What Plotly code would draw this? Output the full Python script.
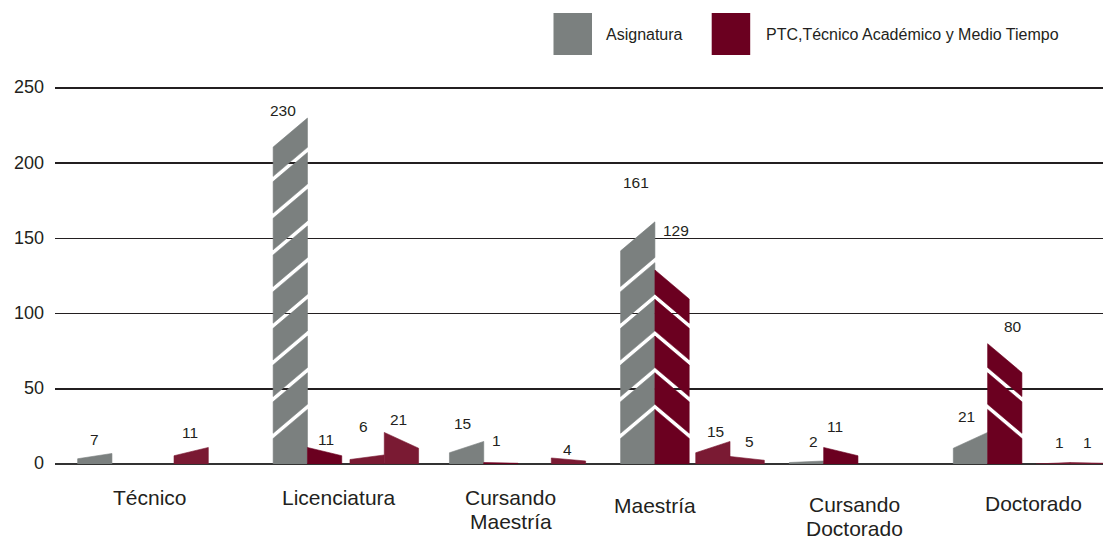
import plotly.graph_objects as go

# ------------------------------------------------------------------ data
CATEGORIES = ["Técnico", "Licenciatura", "Cursando\nMaestría", "Maestría",
              "Cursando\nDoctorado", "Doctorado"]
ASIGNATURA = [7, 230, 15, 161, 2, 21]          # gray, first slot of pair 1
PTC = [None, 11, 1, 129, 11, 80]               # maroon, second slot of pair 1
OTROS_A = [11, 6, None, 15, None, 1]           # light maroon, first slot of pair 2
OTROS_B = [None, 21, 4, 5, None, 1]            # light maroon, second slot of pair 2
Y_TICKS = [0, 50, 100, 150, 200, 250]
SERIES_NAMES = ["Asignatura", "PTC,Técnico Académico y Medio Tiempo"]

# ------------------------------------------------------------------ layout / style
W, H = 1103, 539
M_L, M_R, M_T, M_B = 55, 0, 85, 75
SLOT_PX = 34.3                        # width of one bar in px
X_MAX = (W - M_L - M_R) / SLOT_PX     # x axis measured in bar widths
Y_MAX = 252
PLOT_H = H - M_T - M_B

PAIR1_X = [0.66, 6.36, 11.50, 16.49, 21.41, 26.19]   # slot where each group's first pair starts
PAIR2_X = [3.47, 8.60, 13.47, 18.68, 23.60, 28.60]   # slot where each group's second pair starts
CAT_X = [2.78, 8.28, 13.29, 17.49, 23.32, 28.54]     # category label centers (axis units)
CAT_Y_PX = [497, 497, 497, 505, 504, 503]            # first label line center, px from top

# value label nudges (dx px, dy px above bar top)
NUDGE_ASIG = [(0, 13.5), (-7, 8), (-4, 18), (-2, 39), (7, 19), (-4, 16)]
NUDGE_PTC = [None, (1, 7.5), (-4, 22.5), (4, 39), (-6, 21), (8, 17)]
NUDGE_A = [(-1, 14.5), (-4, 28), None, (3, 10), None, (6, 20)]
NUDGE_B = [None, (-3, 12.5), (-1, 8), (2.5, 15), None, (0, 20)]

GRAY = "#7b807f"
MAROON = "#6b0020"
MAROON_LIGHT = "#7a1a33"
TEXT = "#231f20"
FONT = "Liberation Sans, Arial, Helvetica, sans-serif"

PX_PER_UNIT = PLOT_H / Y_MAX
SLANT_MAX = 29 / PX_PER_UNIT          # max slant of bar tops (value units)
BAND = 5.2 / PX_PER_UNIT              # white stripe thickness (value units)
STRIPE_START, STRIPE_STEP = 38, 24.4  # stripe grid (high-edge values)


def bar_polygons(x0, v, rising):
    """Slanted-top bar split into parallelogram segments by white stripes."""
    x1 = x0 + 1
    s = min(0.5 * v, SLANT_MAX)
    cuts = []
    if v >= 50:
        c = STRIPE_START
        while c < v - 15:
            cuts.append(c)
            c += STRIPE_STEP
    cuts = sorted(cuts, reverse=True)
    uppers = [(v, v - s)] + [(c - BAND / 2, c - s - BAND / 2) for c in cuts]
    lowers = [(c + BAND / 2, c - s + BAND / 2) for c in cuts] + [(0, 0)]
    xs, ys = [], []
    for (uh, ul), (lh, ll) in zip(uppers, lowers):
        if rising:   # high edge on the right
            pts = [(x0, ll), (x1, lh), (x1, uh), (x0, ul), (x0, ll)]
        else:        # high edge on the left
            pts = [(x0, lh), (x1, ll), (x1, ul), (x0, uh), (x0, lh)]
        for px, py in pts:
            xs.append(px)
            ys.append(max(py, 0))
        xs.append(None)
        ys.append(None)
    return xs, ys


fig = go.Figure()
annotations = []

series = [
    (ASIGNATURA, PAIR1_X, 0, True, GRAY, NUDGE_ASIG),
    (PTC, PAIR1_X, 1, False, MAROON, NUDGE_PTC),
    (OTROS_A, PAIR2_X, 0, True, MAROON_LIGHT, NUDGE_A),
    (OTROS_B, PAIR2_X, 1, False, MAROON_LIGHT, NUDGE_B),
]

for values, starts, off, rising, color, nudges in series:
    xs, ys = [], []
    for i, v in enumerate(values):
        if v is None:
            continue
        px_, py_ = bar_polygons(starts[i] + off, v, rising)
        xs += px_
        ys += py_
        dx, dy = nudges[i]
        annotations.append(dict(x=starts[i] + off + 0.5, y=v, xref="x", yref="y",
                                text=str(v), showarrow=False, xshift=dx, yshift=dy,
                                xanchor="center", yanchor="middle",
                                font=dict(family=FONT, size=15.5, color=TEXT)))
    fig.add_trace(go.Scatter(x=xs, y=ys, mode="lines", fill="toself",
                             fillcolor=color, line=dict(width=0.6, color=color),
                             hoverinfo="skip", showlegend=False))

# category labels
for cx, cy, name in zip(CAT_X, CAT_Y_PX, CATEGORIES):
    for j, line in enumerate(name.split("\n")):
        annotations.append(dict(x=cx, y=0, xref="x", yref="paper", text=line,
                                showarrow=False, xanchor="center", yanchor="middle",
                                yshift=-(cy - (H - M_B)) - 24 * j,
                                font=dict(family=FONT, size=21, color=TEXT)))


# manual legend (large swatches)
def xp(px):
    return (px - M_L) / (W - M_L - M_R)


def yp(py):
    return (H - M_B - py) / PLOT_H


shapes = []
for (sx, tx, col, name) in [(553.5, 604, GRAY, SERIES_NAMES[0]),
                            (711.7, 764, MAROON, SERIES_NAMES[1])]:
    shapes.append(dict(type="rect", xref="paper", yref="paper",
                       x0=xp(sx), x1=xp(sx + 38.5), y0=yp(55), y1=yp(13),
                       fillcolor=col, line=dict(width=0), layer="above"))
    annotations.append(dict(x=xp(tx), y=yp(35), xref="paper", yref="paper",
                            text=name, showarrow=False, xanchor="left",
                            yanchor="middle",
                            font=dict(family=FONT, size=16, color=TEXT)))

fig.update_layout(
    width=W, height=H,
    margin=dict(l=M_L, r=M_R, t=M_T, b=M_B),
    paper_bgcolor="white", plot_bgcolor="white",
    showlegend=False,
    xaxis=dict(range=[0, X_MAX], showgrid=False, zeroline=False,
               showticklabels=False, showline=False, fixedrange=True),
    yaxis=dict(range=[0, Y_MAX], tickvals=Y_TICKS, ticktext=[str(t) for t in Y_TICKS],
               showgrid=True, gridcolor=TEXT, gridwidth=1.6,
               zeroline=True, zerolinecolor="#333333", zerolinewidth=2,
               showline=False, ticks="", ticklabelstandoff=10, ticklabelshift=-1,
               tickfont=dict(family=FONT, size=18, color=TEXT), fixedrange=True),
    annotations=annotations,
    shapes=shapes,
)

fig.write_html("out.html",
               config={"displayModeBar": False, "staticPlot": True},
               post_script="document.body.style.margin='0px';"
                           "document.body.style.overflow='hidden';")
